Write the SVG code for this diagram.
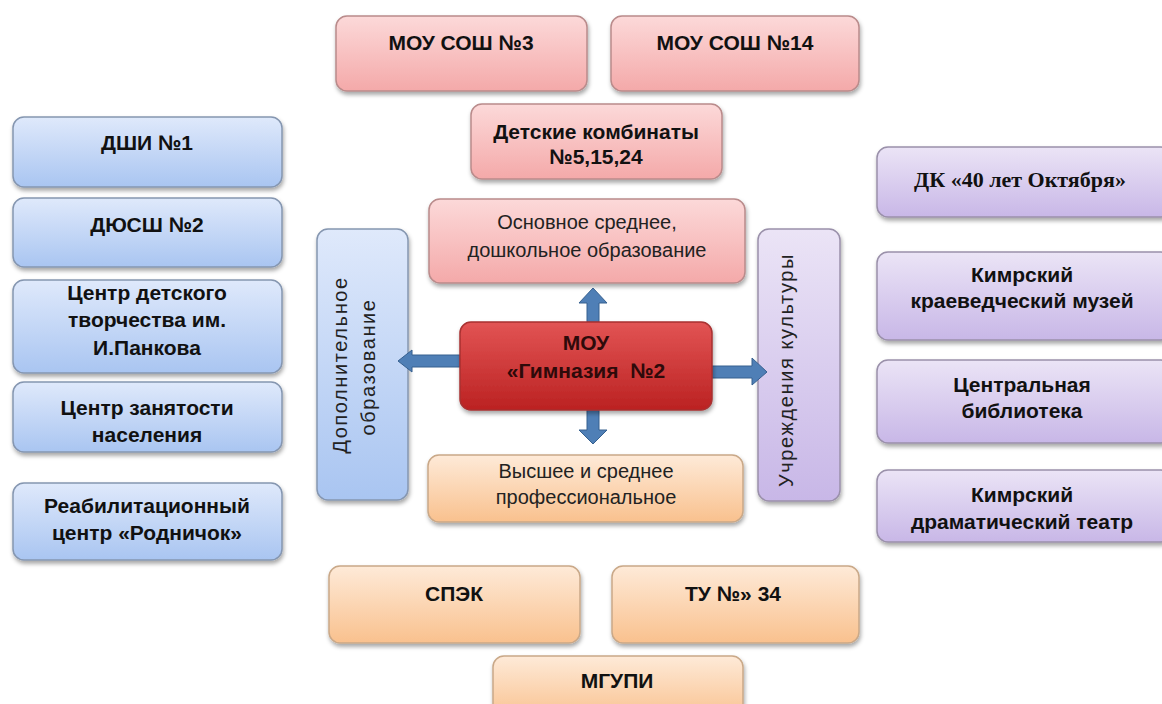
<svg xmlns="http://www.w3.org/2000/svg" width="1162" height="704" viewBox="0 0 1162 704">
<defs>
<linearGradient id="gPink" x1="0" y1="0" x2="0" y2="1"><stop offset="0" stop-color="#fcd9d9"/><stop offset="1" stop-color="#f4a9a9"/></linearGradient>
<linearGradient id="gBlue" x1="0" y1="0" x2="0" y2="1"><stop offset="0" stop-color="#dfe9fb"/><stop offset="1" stop-color="#a9c5f1"/></linearGradient>
<linearGradient id="gPurple" x1="0" y1="0" x2="0" y2="1"><stop offset="0" stop-color="#ebe4f6"/><stop offset="1" stop-color="#c8b7e7"/></linearGradient>
<linearGradient id="gOrange" x1="0" y1="0" x2="0" y2="1"><stop offset="0" stop-color="#feead8"/><stop offset="1" stop-color="#f9c18e"/></linearGradient>
<linearGradient id="gRed" x1="0" y1="0" x2="0" y2="1"><stop offset="0" stop-color="#e25454"/><stop offset="1" stop-color="#bb2222"/></linearGradient>
<filter id="sh" x="-10%" y="-10%" width="130%" height="140%"><feDropShadow dx="1" dy="3" stdDeviation="2" flood-color="#000" flood-opacity="0.35"/></filter>
</defs>
<style>
.box{stroke-width:1.5;filter:url(#sh)}
.pink{fill:url(#gPink);stroke:#b98b8b}
.blue{fill:url(#gBlue);stroke:#8596b0}
.purple{fill:url(#gPurple);stroke:#9a90aa}
.orange{fill:url(#gOrange);stroke:#c9a888}
.red{fill:url(#gRed);stroke:#a83030}
.b{font-family:"Liberation Sans",Arial,sans-serif;font-weight:bold;font-size:21px;fill:#111;text-anchor:middle}
.s{font-family:"Liberation Serif","Times New Roman",serif;font-weight:bold;font-size:22px;fill:#111;text-anchor:middle}
.n{font-family:"Liberation Sans",Arial,sans-serif;font-size:20px;fill:#222;text-anchor:middle}
.v{font-family:"Liberation Sans",Arial,sans-serif;font-size:20px;fill:#222;text-anchor:middle;letter-spacing:1.6px}
.arrow{fill:#4f7fb6;stroke:#36608f;stroke-width:1}
</style>
<rect width="1162" height="704" fill="#ffffff"/>

<g id="sosh3"><rect class="box pink" x="336" y="16" width="251" height="75" rx="11"/><text class="b" x="461" y="50">МОУ СОШ №3</text></g>
<g id="sosh14"><rect class="box pink" x="611" y="16" width="248" height="75" rx="11"/><text class="b" x="735" y="50">МОУ СОШ №14</text></g>
<g id="kombinaty"><rect class="box pink" x="471" y="104" width="251" height="75" rx="11"/><text class="b" x="596" y="139">Детские комбинаты</text><text class="b" x="596" y="164">№5,15,24</text></g>
<g id="osnovnoe"><rect class="box pink" x="429" y="199" width="316" height="84" rx="11"/><text class="n" x="587" y="229">Основное среднее,</text><text class="n" x="587" y="257">дошкольное образование</text></g>

<g id="dshi"><rect class="box blue" x="13" y="117" width="269" height="70" rx="11"/><text class="b" x="147" y="150">ДШИ №1</text></g>
<g id="dyussh"><rect class="box blue" x="13" y="198" width="269" height="69" rx="11"/><text class="b" x="147" y="232">ДЮСШ №2</text></g>
<g id="cdt"><rect class="box blue" x="13" y="280" width="269" height="93" rx="11"/><text class="b" x="147" y="300">Центр детского</text><text class="b" x="147" y="327">творчества им.</text><text class="b" x="147" y="355">И.Панкова</text></g>
<g id="czn"><rect class="box blue" x="13" y="382" width="269" height="70" rx="11"/><text class="b" x="147" y="415">Центр занятости</text><text class="b" x="147" y="442">населения</text></g>
<g id="reab"><rect class="box blue" x="13" y="483" width="269" height="77" rx="11"/><text class="b" x="147" y="513">Реабилитационный</text><text class="b" x="147" y="540">центр «Родничок»</text></g>
<g id="dop"><rect class="box blue" x="317" y="229" width="91" height="271" rx="11"/><text class="v" transform="translate(347,365) rotate(-90)">Дополнительное</text><text class="v" transform="translate(375,367) rotate(-90)">образование</text></g>

<g id="dk"><rect class="box purple" x="877" y="147" width="295" height="70" rx="11"/><text class="s" x="1020" y="187">ДК «40 лет Октября»</text></g>
<g id="muzey"><rect class="box purple" x="877" y="252" width="295" height="88" rx="11"/><text class="b" x="1022" y="282">Кимрский</text><text class="b" x="1022" y="308">краеведческий музей</text></g>
<g id="biblioteka"><rect class="box purple" x="877" y="360" width="295" height="83" rx="11"/><text class="b" x="1022" y="392">Центральная</text><text class="b" x="1022" y="418">библиотека</text></g>
<g id="teatr"><rect class="box purple" x="877" y="470" width="295" height="72" rx="11"/><text class="b" x="1022" y="502">Кимрский</text><text class="b" x="1022" y="529">драматический театр</text></g>
<g id="kultura"><rect class="box purple" x="758" y="229" width="82" height="272" rx="11"/><text class="v" transform="translate(793,370) rotate(-90)">Учреждения культуры</text></g>

<g id="vysshee"><rect class="box orange" x="428" y="455" width="315" height="67" rx="11"/><text class="n" x="586" y="478">Высшее и среднее</text><text class="n" x="586" y="504">профессиональное</text></g>
<g id="spek"><rect class="box orange" x="329" y="566" width="251" height="77" rx="11"/><text class="b" x="454" y="601">СПЭК</text></g>
<g id="tu"><rect class="box orange" x="612" y="566" width="247" height="77" rx="11"/><text class="b" x="733" y="601">ТУ №» 34</text></g>
<g id="mgupi"><rect class="box orange" x="493" y="656" width="250" height="64" rx="11"/><text class="b" x="617" y="688">МГУПИ</text></g>

<g id="connectors">
<polygon class="arrow" points="587,322 587,303 579,303 593,288 607,303 599,303 599,322"/>
<polygon class="arrow" points="587,410 587,430 579,430 593,444 607,430 599,430 599,410"/>
<polygon class="arrow" points="460,355 412,355 412,350 398,361 412,372 412,367 460,367"/>
<polygon class="arrow" points="712,366 752,366 752,358 767,372 752,385 752,378 712,378"/>
</g>

<g id="gimnaziya"><rect class="box red" x="460" y="322" width="252" height="88" rx="11"/><text class="b" x="586" y="350" style="fill:#2e0a0a">МОУ</text><text class="b" x="586" y="378" style="fill:#2e0a0a;white-space:pre" xml:space="preserve">«Гимназия  №2</text></g>
</svg>
